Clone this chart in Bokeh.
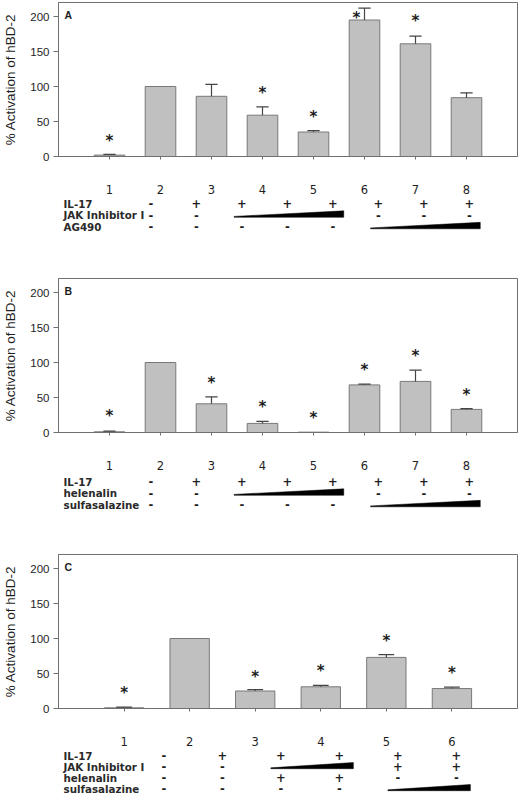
import numpy as np
from bokeh.plotting import figure
from bokeh.models import ColumnDataSource, FixedTicker, Range1d
from bokeh.layouts import column
from bokeh.embed import file_html
from bokeh.resources import INLINE
from bokeh.core.properties import value

# --- panel A ---
lanes_a = [1, 2, 3, 4, 5, 6, 7, 8]
act_a = [2, 100, 86, 59, 35, 195, 161, 84]
sem_a = [1, 0, 17, 12, 2, 17, 11, 7]
star_a = [28, None, None, 96, 62, 204, 199, None]
rows_a = ["IL-17", "JAK Inhibitor I", "AG490"]
cond_a = [
    ["-", "+", "+", "+", "+", "+", "+", "+"],
    ["-", "-", "w", "w", "w", "-", "-", "-"],
    ["-", "-", "-", "-", "-", "w", "w", "w"],
]

# --- panel B ---
lanes_b = [1, 2, 3, 4, 5, 6, 7, 8]
act_b = [1, 100, 41, 13, 0.5, 68, 73, 33]
sem_b = [1, 0, 10, 3, 0, 1, 16, 1]
star_b = [29, None, 76, 42, 27, 95, 115, 60]
rows_b = ["IL-17", "helenalin", "sulfasalazine"]
cond_b = [
    ["-", "+", "+", "+", "+", "+", "+", "+"],
    ["-", "-", "w", "w", "w", "-", "-", "-"],
    ["-", "-", "-", "-", "-", "w", "w", "w"],
]

# --- panel C ---
lanes_c = [1, 2, 3, 4, 5, 6]
act_c = [1, 100, 25, 31, 73, 28.5]
sem_c = [1, 0, 2, 2, 4, 2]
star_c = [28, None, 51, 60, 102, 57]
rows_c = ["IL-17", "JAK Inhibitor I", "helenalin", "sulfasalazine"]
cond_c = [
    ["-", "+", "+", "+", "+", "+"],
    ["-", "-", "w", "w", "+", "+"],
    ["-", "-", "+", "+", "-", "-"],
    ["-", "-", "-", "-", "w", "w"],
]

W = 520
LB = 53           # left border
FW = 464          # frame width
FH = 154          # frame height (0..220)
BB = 41           # bottom border (lane numbers)
INK = "#1e1e1e"
FRAME = "#707070"


def chart(letter, lanes, act, sem, stars, top=1):
    n = len(lanes)
    p = figure(width=W, height=top + FH + BB, x_range=Range1d(0, n + 1), y_range=Range1d(0, 220),
               output_backend="svg", toolbar_location=None,
               min_border_left=LB, min_border_right=W - LB - FW, min_border_top=top, min_border_bottom=BB)
    p.grid.visible = False
    p.outline_line_color = FRAME

    p.yaxis.ticker = FixedTicker(ticks=[0, 50, 100, 150, 200])
    p.yaxis.axis_label = "% Activation of hBD-2"
    p.yaxis.axis_label_text_font = "Liberation Sans"
    p.yaxis.axis_label_text_font_style = "normal"
    p.yaxis.axis_label_text_font_size = "13.5px"
    p.yaxis.axis_label_text_color = INK
    p.yaxis.axis_label_standoff = 9
    p.yaxis.major_label_text_font = "Liberation Sans"
    p.yaxis.major_label_text_font_size = "11.5px"
    p.yaxis.major_label_text_color = INK
    p.yaxis.major_label_standoff = 4
    p.yaxis.major_tick_out = 5
    p.yaxis.major_tick_in = 0
    p.yaxis.minor_tick_line_color = None

    p.xaxis.ticker = FixedTicker(ticks=lanes)
    p.xaxis.major_label_text_font = "DejaVu Sans"
    p.xaxis.major_label_text_font_size = "11.5px"
    p.xaxis.major_label_text_color = INK
    p.xaxis.major_label_standoff = 25
    p.xaxis.major_tick_out = 3
    p.xaxis.major_tick_in = 0
    p.xaxis.minor_tick_line_color = None
    for ax in (p.xaxis, p.yaxis):
        ax.axis_line_color = FRAME
        ax.major_tick_line_color = FRAME

    src = ColumnDataSource(dict(x=lanes, top=act))
    p.vbar(x="x", top="top", width=0.6, source=src,
           fill_color="#c0c0c0", line_color="#787878", line_width=1)

    ex = np.array([x for x, e in zip(lanes, sem) if e > 0], dtype=float)
    lo = [a for a, e in zip(act, sem) if e > 0]
    hi = [a + e for a, e in zip(act, sem) if e > 0]
    p.segment(x0=ex, y0=lo, x1=ex, y1=hi, line_color="#454545", line_width=1.2)
    p.segment(x0=ex - 0.12, y0=hi, x1=ex + 0.12, y1=hi, line_color="#454545", line_width=1.2)

    sx = [x for x, s in zip(lanes, stars) if s is not None]
    sy = [s for s in stars if s is not None]
    # the star over the tallest bar of panel A sits left of its error bar
    sx = [x - 0.16 if y > 200 else x for x, y in zip(sx, sy)]
    p.text(x=sx, y=sy, text=["*"] * len(sx), text_align="center", text_baseline="middle",
           y_offset=4, text_font=value("DejaVu Sans"), text_font_style="bold",
           text_font_size="15px", text_color=INK)

    p.text(x=[0], y=[220], text=[letter], x_offset=6, y_offset=12,
           text_align="left", text_baseline="middle", text_font=value("Liberation Sans"),
           text_font_style="bold", text_font_size="10.5px", text_color=INK)
    return p


def table(lanes, rows, cond, height, first, rs):
    n = len(lanes)
    s = FW / (n + 1)
    x0 = -LB / s
    a = figure(width=W, height=height, x_range=Range1d(x0, x0 + W / s),
               y_range=Range1d((height - first) / rs, -first / rs),
               output_backend="svg", toolbar_location=None, min_border=0,
               x_axis_location=None, y_axis_location=None)
    a.grid.visible = False
    a.outline_line_color = None

    a.text(x=[x0] * len(rows), y=list(range(len(rows))), text=rows, text_align="left",
           text_baseline="middle", x_offset=5, text_font=value("DejaVu Sans"),
           text_font_style="bold", text_font_size="10.3px", text_color="#2a2a2a")

    tx, ty, tt = [], [], []
    for i, marks in enumerate(cond):
        for lane, m in zip(lanes, marks):
            if m in "+-":
                tx.append(lane)
                ty.append(i)
                tt.append(m)
    a.text(x=tx, y=ty, text=tt, text_align="center", text_baseline="middle",
           text_font=value("DejaVu Sans"), text_font_style="bold", text_font_size="11.5px",
           text_color=INK)

    # rising concentration wedges
    xs, ys = [], []
    for i, marks in enumerate(cond):
        run = [lane for lane, m in zip(lanes, marks) if m == "w"]
        if run:
            l, r = run[0] - 0.17, run[-1] + 0.24
            xs.append([l, r, r, l])
            ys.append([i + 0.2, i + 0.2, i - 0.36, i + 0.12])
    a.patches(xs=xs, ys=ys, fill_color="black", line_color="black", line_width=0.5)
    return a


pa = chart("A", lanes_a, act_a, sem_a, star_a, top=2)
ta = table(lanes_a, rows_a, cond_a, 80, 6, 11.5)
pb = chart("B", lanes_b, act_b, sem_b, star_b)
tb = table(lanes_b, rows_b, cond_b, 80, 8, 11.5)
pc = chart("C", lanes_c, act_c, sem_c, star_c)
tc = table(lanes_c, rows_c, cond_c, 47, 6, 11)

layout = column(pa, ta, pb, tb, pc, tc, spacing=0)

open("out.html", "w").write(file_html(layout, INLINE))
